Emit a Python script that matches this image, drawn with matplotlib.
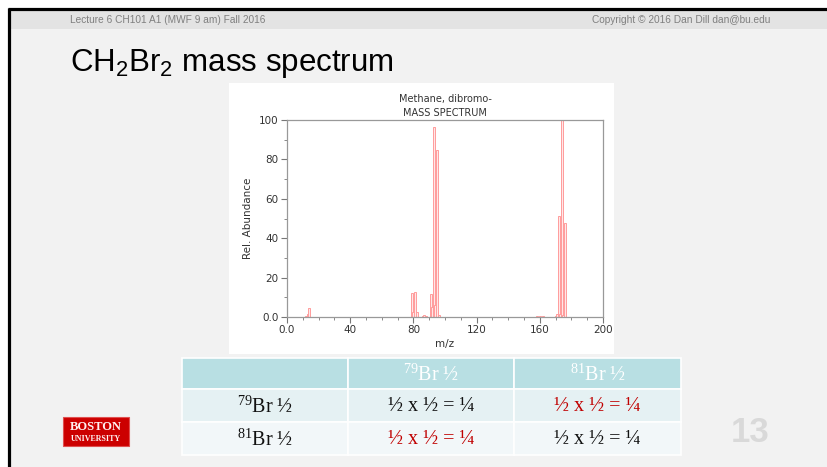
import matplotlib.pyplot as plt
from matplotlib.patches import Rectangle
from matplotlib.ticker import MultipleLocator

# mass spectrum of CH2Br2 (m/z, relative abundance)
mz = [12, 13, 14, 79, 80, 81, 82, 86, 87, 88, 91, 92, 93, 94, 95, 96,
      158, 160, 162, 170, 171, 172, 173, 174, 175, 176]
abund = [0.4, 1.5, 4.4, 12.2, 2.6, 12.5, 2.6, 0.4, 0.8, 0.4, 11.5, 5.0, 96.2, 6.0, 84.6, 1.0,
         0.3, 0.4, 0.3, 0.3, 1.5, 51.2, 1.5, 100.0, 1.2, 47.6]

x_ticks = [0, 40, 80, 120, 160, 200]
x_ticklabels = ['0.0', '40', '80', '120', '160', '200']
y_ticks = [0, 20, 40, 60, 80, 100]
y_ticklabels = ['0.0', '20', '40', '60', '80', '100']

# isotope table
col_heads = ['', '$^{79}$Br ½', '$^{81}$Br ½']
row_heads = ['$^{79}$Br ½', '$^{81}$Br ½']
cells = [['½ x ½ = ¼', '½ x ½ = ¼'],
         ['½ x ½ = ¼', '½ x ½ = ¼']]
cell_red = [[False, True],
            [True, False]]

plt.rcParams['mathtext.fontset'] = 'custom'
plt.rcParams['mathtext.rm'] = 'Liberation Serif'

W, H = 828, 467
fig = plt.figure(figsize=(W / 100, H / 100), dpi=100, facecolor='white')

# slide drawn in pixel coordinates
bg = fig.add_axes([0, 0, 1, 1])
bg.set_xlim(0, W)
bg.set_ylim(H, 0)
bg.axis('off')
bg.add_patch(Rectangle((9, 9), W, H, color='#f2f2f2', lw=0))
bg.add_patch(Rectangle((9, 10), W, 19, color='#e3e3e3', lw=0))
bg.plot([8, W], [9, 9], color='black', lw=2.3, solid_capstyle='butt')
bg.plot([9, 9], [8, H], color='black', lw=2.3, solid_capstyle='butt')

bg.text(70, 20, 'Lecture 6 CH101 A1 (MWF 9 am) Fall 2016', fontsize=7.3, color='#7f7f7f',
        family='Liberation Sans', va='center', ha='left')
bg.text(770, 20, 'Copyright © 2016 Dan Dill dan@bu.edu', fontsize=7.3, color='#7f7f7f',
        family='Liberation Sans', va='center', ha='right')
bg.text(70, 71, r'CH$_\mathregular{2}$Br$_\mathregular{2}$ mass spectrum', fontsize=22.5,
        family='Liberation Sans', color='black', va='baseline', ha='left')

# white picture area behind the spectrum
bg.add_patch(Rectangle((229, 83), 385, 271, color='white', lw=0))

# table
col_x = [182, 348.5, 514.5, 681]
row_y = [358, 389, 422, 455]
row_colors = ['#b8dfe3', '#e5f1f3', '#f2f7f9']
for r in range(3):
    for c in range(3):
        bg.add_patch(Rectangle((col_x[c], row_y[r]), col_x[c + 1] - col_x[c], row_y[r + 1] - row_y[r],
                               facecolor=row_colors[r], edgecolor='white', lw=1.2))
tfont = dict(family=['Liberation Serif', 'DejaVu Serif'], fontsize=14.5, ha='center', va='center')
for c in range(3):
    xc = (col_x[c] + col_x[c + 1]) / 2
    bg.text(xc, (row_y[0] + row_y[1]) / 2 + 1, col_heads[c], color='white', **tfont)
for r in range(2):
    yc = (row_y[r + 1] + row_y[r + 2]) / 2 + 1
    bg.text((col_x[0] + col_x[1]) / 2, yc, row_heads[r], color='#111111', **tfont)
    for c in range(2):
        xc = (col_x[c + 1] + col_x[c + 2]) / 2
        bg.text(xc, yc, cells[r][c], color='#c00000' if cell_red[r][c] else '#111111', **tfont)

# logo
bg.add_patch(Rectangle((63, 417), 66, 29, facecolor='#cc0000', edgecolor='#e05050', lw=0.8))
bg.text(96, 427.5, 'BOSTON', fontsize=9, color='#fff0f0', family='Liberation Serif',
        weight='bold', ha='center', va='center')
bg.text(96, 439, 'UNIVERSITY', fontsize=5.8, color='#fff0f0', family='Liberation Serif',
        weight='bold', ha='center', va='center')

# slide number
bg.text(750, 432, '13', fontsize=25, color='#d9d9d9', family='Liberation Sans',
        weight='bold', ha='center', va='center')

# spectrum
ax = fig.add_axes([287 / W, (H - 317) / H, (603 - 287) / W, (317 - 120) / H])
ax.set_facecolor('white')
ax.bar(mz, abund, width=1.3, facecolor='#ffe8e8', edgecolor='#ff9c9c', lw=0.7)
ax.set_xlim(0, 200)
ax.set_ylim(0, 100)
ax.set_xticks(x_ticks)
ax.set_xticklabels(x_ticklabels)
ax.set_yticks(y_ticks)
ax.set_yticklabels(y_ticklabels)
ax.xaxis.set_minor_locator(MultipleLocator(10))
ax.yaxis.set_minor_locator(MultipleLocator(10))
ax.tick_params(which='major', length=4, width=0.8, color='#777777', labelsize=7.5,
               labelcolor='#333333', direction='out', pad=2)
ax.tick_params(which='minor', length=2, width=0.6, color='#777777', direction='out')
for s in ax.spines.values():
    s.set_color('#999999')
    s.set_linewidth(0.9)
ax.set_xlabel('m/z', fontsize=7.5, color='#333333', labelpad=3)
ax.set_ylabel('Rel. Abundance', fontsize=7.5, color='#333333', labelpad=4)
ax.set_title('Methane, dibromo-\nMASS SPECTRUM', fontsize=7, color='#333333',
             linespacing=1.5, pad=3)

fig.savefig('out.png', dpi=100)
